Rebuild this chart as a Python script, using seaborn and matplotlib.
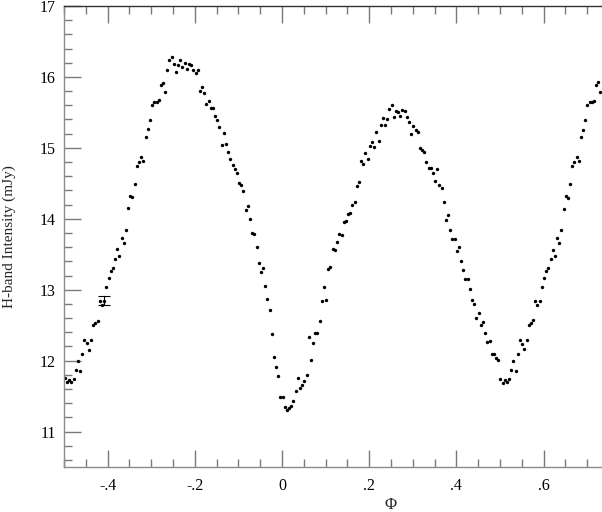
import numpy as np
import pandas as pd
import matplotlib
matplotlib.use("Agg")
import matplotlib.pyplot as plt
from matplotlib.ticker import MultipleLocator, FuncFormatter
import seaborn as sns

# Phase-folded H-band light curve
phase = [
    -0.4985, -0.4931, -0.4878, -0.4832, -0.4778, -0.4732, -0.4679, -0.4625, -0.4579, -0.4533,
    -0.4480, -0.4426, -0.4380, -0.4327, -0.4281, -0.4227, -0.4174, -0.4128, -0.4082, -0.4029,
    -0.3975, -0.3929, -0.3876, -0.3830, -0.3776, -0.3730, -0.3677, -0.3631, -0.3577, -0.3531,
    -0.3478, -0.3432, -0.3378, -0.3325, -0.3279, -0.3233, -0.3179, -0.3126, -0.3080, -0.3034,
    -0.2980, -0.2927, -0.2873, -0.2827, -0.2774, -0.2728, -0.2682, -0.2628, -0.2583, -0.2529,
    -0.2483, -0.2430, -0.2384, -0.2330, -0.2284, -0.2231, -0.2185, -0.2131, -0.2085, -0.2032,
    -0.1978, -0.1932, -0.1887, -0.1833, -0.1787, -0.1734, -0.1680,
    -0.1629, -0.1583, -0.1537, -0.1483, -0.1437, -0.1384, -0.1338, -0.1284, -0.1231, -0.1185,
    -0.1131, -0.1085, -0.1032, -0.0986, -0.0932, -0.0886, -0.0833, -0.0779, -0.0733, -0.0680,
    -0.0634, -0.0580, -0.0535, -0.0481, -0.0435, -0.0382, -0.0336, -0.0282, -0.0229, -0.0183,
    -0.0129, -0.0083, -0.0037, 0.0016, 0.0062, 0.0116, 0.0162, 0.0215, 0.0261, 0.0315,
    0.0368, 0.0414, 0.0460, 0.0513, 0.0567, 0.0613, 0.0666, 0.0720, 0.0766, 0.0812,
    0.0865, 0.0919, 0.0965, 0.1018, 0.1064, 0.1110,
    0.1170, 0.1216, 0.1270, 0.1316, 0.1369, 0.1415, 0.1469, 0.1515, 0.1568, 0.1614,
    0.1668, 0.1714, 0.1767, 0.1821, 0.1867, 0.1913, 0.1966, 0.2020, 0.2065, 0.2119,
    0.2165, 0.2218, 0.2264, 0.2318, 0.2364, 0.2417, 0.2463, 0.2517, 0.2563, 0.2616,
    0.2662, 0.2716, 0.2762, 0.2815, 0.2869, 0.2915, 0.2968, 0.3014, 0.3068, 0.3114,
    0.3167, 0.3213, 0.3267, 0.3313, 0.3366, 0.3412, 0.3465, 0.3511, 0.3565, 0.3611,
    0.3664, 0.3710, 0.3764, 0.3810, 0.3863, 0.3909, 0.3963, 0.4009, 0.4062, 0.4116,
    0.4162, 0.4207, 0.4261, 0.4307,
    0.4358, 0.4412, 0.4458, 0.4511, 0.4557, 0.4611, 0.4664, 0.4710, 0.4764, 0.4810,
    0.4863, 0.4909, 0.4963, 0.5009, 0.5062, 0.5108, 0.5162, 0.5215, 0.5261, 0.5307,
    0.5361, 0.5414, 0.5460, 0.5514, 0.5560, 0.5613, 0.5659, 0.5712, 0.5758, 0.5812,
    0.5858, 0.5911, 0.5957, 0.6011, 0.6057, 0.6110, 0.6164, 0.6210, 0.6263, 0.6309,
    0.6363, 0.6409, 0.6462, 0.6508, 0.6562, 0.6608, 0.6661, 0.6707, 0.6761, 0.6814,
    0.6860, 0.6906, 0.6960, 0.7006, 0.7059, 0.7105, 0.7159, 0.7205, 0.7251, 0.7304,
]
intensity = [
    11.748, 11.696, 11.724, 11.705, 11.738, 11.874, 11.997, 11.860, 12.100, 12.292,
    12.245, 12.156, 12.288, 12.509, 12.528, 12.565, 12.838, 12.791, 12.842, 13.039,
    13.171, 13.270, 13.307, 13.439, 13.571, 13.477, 13.726, 13.665, 13.838, 14.148,
    14.322, 14.303, 14.487, 14.745, 14.806, 14.872, 14.811, 15.158, 15.262, 15.389,
    15.605, 15.647, 15.642, 15.670, 15.891, 15.920, 15.783, 16.093, 16.234, 16.286,
    16.187, 16.065, 16.168, 16.239, 16.136, 16.192, 16.107, 16.183, 16.173, 16.093,
    16.056, 16.103, 15.807, 15.858, 15.769, 15.623, 15.661,
    15.558, 15.558, 15.454, 15.393, 15.295, 15.041, 15.215, 15.050, 14.947, 14.839,
    14.759, 14.698, 14.642, 14.501, 14.472, 14.393, 14.125, 14.186, 14.003, 13.796,
    13.782, 13.608, 13.378, 13.246, 13.307, 13.054, 12.875, 12.716, 12.382, 12.048,
    11.907, 11.785, 11.485, 11.485, 11.339, 11.301, 11.330, 11.358, 11.433, 11.574,
    11.752, 11.607, 11.654, 11.710, 11.799, 12.335, 12.015, 12.246, 12.391, 12.387,
    12.565, 12.847, 13.035, 12.861, 13.298, 13.326,
    13.575, 13.557, 13.674, 13.787, 13.772, 13.956, 13.970, 14.073, 14.078, 14.200,
    14.238, 14.463, 14.515, 14.820, 14.769, 14.924, 14.844, 15.032, 15.079, 15.008,
    15.229, 15.102, 15.318, 15.417, 15.323, 15.403, 15.544, 15.609, 15.431, 15.515,
    15.506, 15.450, 15.534, 15.520, 15.436, 15.365, 15.201, 15.309, 15.252, 15.220,
    14.999, 14.971, 14.938, 14.797, 14.721, 14.717, 14.642, 14.529, 14.707, 14.472,
    14.440, 14.238, 13.984, 14.050, 13.838, 13.716, 13.721, 13.542, 13.599, 13.406,
    13.279, 13.148, 13.152, 13.011,
    12.852, 12.800, 12.598, 12.669, 12.509, 12.542, 12.387, 12.269, 12.283, 12.091,
    12.095, 12.030, 12.011, 11.743, 11.691, 11.720, 11.701, 11.734, 11.874, 11.997,
    11.856, 12.100, 12.293, 12.241, 12.157, 12.288, 12.504, 12.528, 12.570, 12.838,
    12.791, 12.842, 13.035, 13.171, 13.265, 13.307, 13.439, 13.561, 13.477, 13.726,
    13.660, 13.838, 14.144, 14.322, 14.299, 14.487, 14.740, 14.801, 14.872, 14.811,
    15.158, 15.257, 15.389, 15.605, 15.652, 15.642, 15.666, 15.887, 15.924, 15.783,
]

# typical error bar shown once
err_phase = [-0.408]
err_value = [12.845]
err_half = [0.063]

df = pd.DataFrame({"phase": phase, "intensity": intensity})

sns.set_style("ticks")
plt.rcParams['font.family'] = ['Liberation Serif', 'DejaVu Serif']
plt.rcParams['axes.unicode_minus'] = False

fig = plt.figure(figsize=(6.02, 5.12), dpi=100)
# axes runs past the right edge of the picture (phase up to 1.0)
ax = fig.add_axes([64 / 602, 45 / 512, 654 / 602, 461 / 512])

sns.scatterplot(data=df, x="phase", y="intensity", color="black", s=6,
                linewidth=0, ax=ax)
ax.errorbar(err_phase, err_value, yerr=err_half, fmt="none", ecolor="black",
            elinewidth=0.8, capsize=4, capthick=0.8)

ax.set_xlim(-0.5, 1.0)
ax.set_ylim(10.5, 17)

ax.xaxis.set_major_locator(MultipleLocator(0.2))
ax.xaxis.set_minor_locator(MultipleLocator(0.05))
ax.yaxis.set_major_locator(MultipleLocator(1))
ax.yaxis.set_minor_locator(MultipleLocator(0.2))


def short_fmt(v, pos):
    # labels past the visible part of the axis are left empty
    if v > 0.7:
        return ""
    if abs(v) < 1e-9:
        return "0"
    return f"{v:.1f}".replace("0.", ".")


ax.xaxis.set_major_formatter(FuncFormatter(short_fmt))

ax.tick_params(which="both", direction="in", top=True, right=False,
               colors="#7a7a7a", labelcolor="black", labelsize=11.5)
ax.tick_params(which="major", length=12, width=1.0)
ax.tick_params(which="minor", length=5.8, width=1.0)
ax.tick_params(axis="x", pad=8)
ax.tick_params(axis="y", pad=6)

for side in ["left", "bottom"]:
    ax.spines[side].set_color("#8c8c8c")
    ax.spines[side].set_linewidth(1.0)
ax.spines["top"].set_color("#333333")
ax.spines["top"].set_linewidth(1.0)
ax.spines["right"].set_visible(False)

ax.set_xlabel("Φ", fontsize=12)
ax.set_ylabel("H-band Intensity (mJy)", fontsize=11)
ax.xaxis.set_label_coords(0.5, -0.066)
ax.yaxis.set_label_coords(-0.074, 0.5)

fig.savefig("out.png", dpi=100)
